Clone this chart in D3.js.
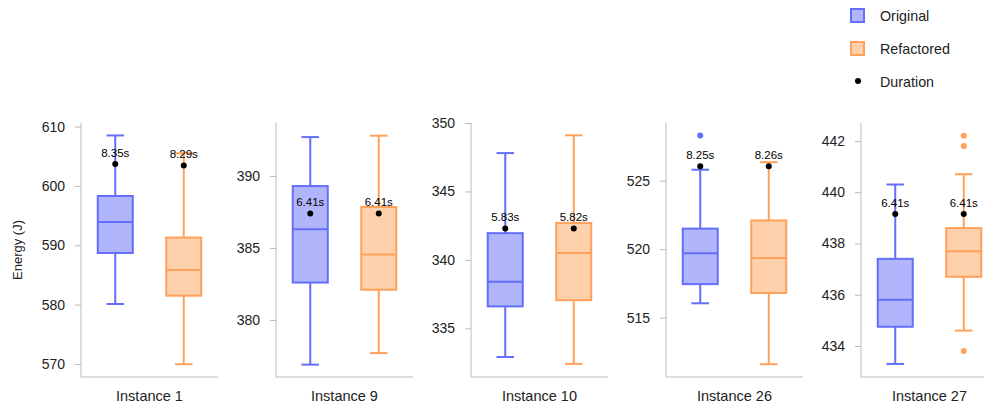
<!DOCTYPE html>
<html>
<head>
<meta charset="utf-8">
<script src="https://cdn.jsdelivr.net/npm/d3@7"></script>
<style>
  body { margin: 0; background: #fff; }
  svg { font-family: "Liberation Sans", Arial, sans-serif; }
</style>
</head>
<body>
<div id="graphique"></div>
<script>
// ===============================
// Données
// ===============================
const instances = ["Instance 1", "Instance 9", "Instance 10", "Instance 26", "Instance 27"];
const versions = ["Original", "Refactored"];

// [min, q1, médiane, q3, max] pour chaque instance
const statsOriginal = [
    [580.1, 588.7, 593.9, 598.3, 608.5],
    [376.9, 382.6, 386.3, 389.3, 392.7],
    [332.9, 336.6, 338.4, 341.95, 347.8],
    [516.05, 517.45, 519.7, 521.5, 525.8],
    [433.3, 434.75, 435.8, 437.4, 440.3]
];
const statsRefactored = [
    [569.95, 581.5, 585.85, 591.3, 605.5],
    [377.7, 382.1, 384.55, 387.85, 392.8],
    [332.4, 337.05, 340.5, 342.7, 349.1],
    [511.6, 516.8, 519.35, 522.1, 526.35],
    [434.6, 436.7, 437.7, 438.6, 440.7]
];
const outliersOriginal = [[], [], [], [528.3], []];
const outliersRefactored = [[], [], [], [], [442.2, 441.8, 433.8]];

// Durées moyennes et hauteur du point (en J)
const dureeOriginal = ["8.35s", "6.41s", "5.83s", "8.25s", "6.41s"];
const dureeRefactored = ["8.29s", "6.41s", "5.82s", "8.26s", "6.41s"];
const pointDureeOriginal = [603.7, 387.4, 342.3, 526.05, 439.15];
const pointDureeRefactored = [603.45, 387.4, 342.3, 526.05, 439.15];

// Axes y de chaque panneau
const yDomaines = [[567.8, 610.6], [376.04, 393.68], [331.44, 350], [510.67, 529.21], [432.79, 442.7]];
const yTicks = [
    [570, 580, 590, 600, 610],
    [380, 385, 390],
    [335, 340, 345, 350],
    [515, 520, 525],
    [434, 436, 438, 440, 442]
];

// ===============================
// Mise en page
// ===============================
const largeur = 984, hauteur = 407;
const haut = 123, bas = 377;
const gauche0 = 81, pas = 195, largeurPanneau = 137;
const largeurBoite = 35;
const couleurs = { Original: "#636efa", Refactored: "#ffa15a" };
const remplissage = { Original: "rgba(99,110,250,0.5)", Refactored: "rgba(255,161,90,0.5)" };
const gris = "#bbbbbb";

const svg = d3.select("#graphique").append("svg")
    .attr("width", largeur).attr("height", hauteur);

// Titre de l'axe y
svg.append("text")
    .attr("transform", `translate(22,${(haut + bas) / 2}) rotate(-90)`)
    .attr("text-anchor", "middle")
    .attr("font-size", 13)
    .attr("fill", "#222")
    .text("Energy (J)");

// Dessine une boîte à moustaches
function dessineBoite(g, x, y, stats, version, outliers) {
    const [mini, q1, med, q3, maxi] = stats;
    const c = couleurs[version];
    const demi = largeurBoite / 2;
    // moustaches
    g.append("line").attr("x1", x).attr("x2", x).attr("y1", y(maxi)).attr("y2", y(q3))
        .attr("stroke", c).attr("stroke-width", 2);
    g.append("line").attr("x1", x).attr("x2", x).attr("y1", y(q1)).attr("y2", y(mini))
        .attr("stroke", c).attr("stroke-width", 2);
    for (let v of [mini, maxi]) {
        g.append("line").attr("x1", x - demi / 2).attr("x2", x + demi / 2)
            .attr("y1", y(v)).attr("y2", y(v))
            .attr("stroke", c).attr("stroke-width", 2);
    }
    // boîte
    g.append("rect")
        .attr("x", x - demi).attr("width", largeurBoite)
        .attr("y", y(q3)).attr("height", y(q1) - y(q3))
        .attr("fill", remplissage[version])
        .attr("stroke", c).attr("stroke-width", 2);
    g.append("line").attr("x1", x - demi).attr("x2", x + demi)
        .attr("y1", y(med)).attr("y2", y(med))
        .attr("stroke", c).attr("stroke-width", 2);
    // points aberrants
    g.selectAll(null).data(outliers).enter().append("circle")
        .attr("cx", x).attr("cy", d => y(d)).attr("r", 3)
        .attr("fill", c);
}

// Dessine le point de durée et son étiquette
function dessineDuree(g, x, yv, texte) {
    g.append("circle").attr("cx", x).attr("cy", yv).attr("r", 3).attr("fill", "#000");
    g.append("text").attr("x", x).attr("y", yv - 7)
        .attr("text-anchor", "middle").attr("font-size", 11.5).attr("fill", "#000")
        .text(texte);
}

// ===============================
// Panneaux
// ===============================
instances.forEach((nom, i) => {
    const x0 = gauche0 + i * pas;
    const g = svg.append("g").attr("transform", `translate(${x0},0)`);

    const y = d3.scaleLinear().domain(yDomaines[i]).range([bas, haut]);
    const x = d3.scalePoint().domain(versions).range([0, largeurPanneau]).padding(0.5);

    // axe y
    const axeY = g.append("g")
        .call(d3.axisLeft(y).tickValues(yTicks[i]).tickSize(6).tickPadding(10).tickSizeOuter(0));
    axeY.select(".domain").remove();
    axeY.selectAll(".tick line").attr("stroke", gris);
    axeY.selectAll(".tick text").attr("font-size", 14).attr("fill", "#222")
        .attr("font-family", "Liberation Sans, Arial, sans-serif");

    // lignes d'axe
    g.append("line").attr("x1", 0).attr("x2", 0).attr("y1", haut).attr("y2", bas)
        .attr("stroke", gris).attr("stroke-width", 1);
    g.append("line").attr("x1", 0).attr("x2", largeurPanneau).attr("y1", bas).attr("y2", bas)
        .attr("stroke", gris).attr("stroke-width", 1);

    // nom de l'instance
    g.append("text").attr("x", largeurPanneau / 2).attr("y", 401)
        .attr("text-anchor", "middle").attr("font-size", 14.5).attr("fill", "#222")
        .text(nom);

    dessineBoite(g, x("Original"), y, statsOriginal[i], "Original", outliersOriginal[i]);
    dessineBoite(g, x("Refactored"), y, statsRefactored[i], "Refactored", outliersRefactored[i]);

    dessineDuree(g, x("Original"), y(pointDureeOriginal[i]), dureeOriginal[i]);
    dessineDuree(g, x("Refactored"), y(pointDureeRefactored[i]), dureeRefactored[i]);
});

// ===============================
// Légende
// ===============================
const legende = svg.append("g").attr("transform", "translate(851,0)");
versions.forEach((v, i) => {
    legende.append("rect")
        .attr("x", 0).attr("y", 9 + i * 33).attr("width", 13).attr("height", 13)
        .attr("fill", remplissage[v]).attr("stroke", couleurs[v]).attr("stroke-width", 2);
    legende.append("text").attr("x", 29).attr("y", 21 + i * 33)
        .attr("font-size", 14.3).attr("fill", "#222").text(v);
});
legende.append("circle").attr("cx", 7).attr("cy", 81).attr("r", 3).attr("fill", "#000");
legende.append("text").attr("x", 29).attr("y", 87)
    .attr("font-size", 14.3).attr("fill", "#222").text("Duration");
</script>
</body>
</html>
